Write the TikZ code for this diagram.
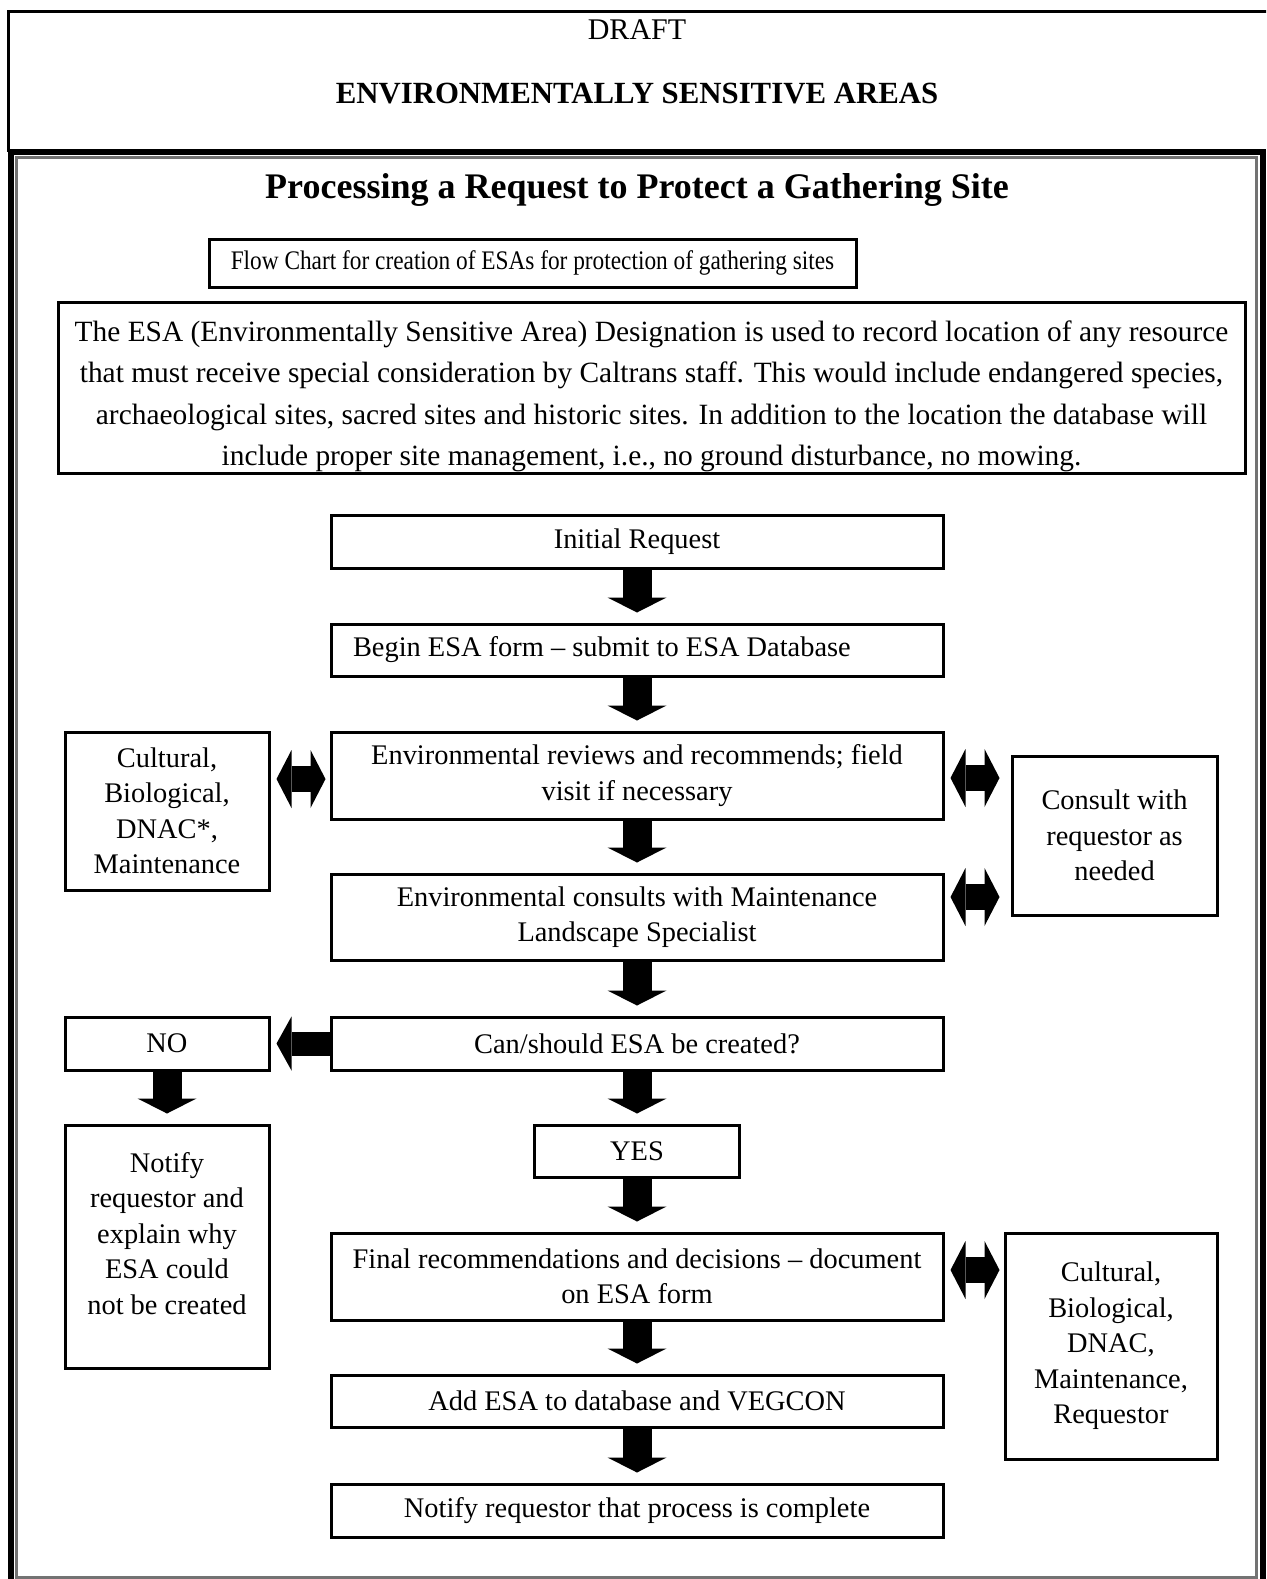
\documentclass[tikz,border=0pt]{standalone}
\usepackage{graphicx}
\usepackage{fontspec}
\setmainfont{Liberation Serif}
\usetikzlibrary{arrows.meta,calc}

\tikzset{
  box/.style={draw, line width=1.5pt, inner sep=0pt, align=center,
    font=\fontsize{14.2}{17.75}\selectfont},
  mainbox/.style={box, minimum width=306pt},
  sidebox/.style={box, minimum width=102pt},
  downarrow/.style={line width=14.5pt,
    -{Triangle[width=29.5pt,length=7.5pt,line width=0pt]}, shorten >=5pt},
  sidearrow/.style={line width=13pt,
    {Triangle[width=29pt,length=7.5pt,line width=0pt]}-{Triangle[width=29pt,length=7.5pt,line width=0pt]}},
}

\begin{document}
\begin{tikzpicture}[x=0.5pt,y=-0.5pt]
        \useasboundingbox (0,0) rectangle (1266,1579);
        \clip (0,0) rectangle (1266,1579);
        % header and frame
        \draw[line width=1.5pt] (1290,11) -- (8,11) -- (8,152);
        \draw[line width=3pt] (10.5,151.5) rectangle (1262.5,1600);
        \draw[line width=1.5pt, black!55] (16.5,157.5) rectangle (1256.5,1577.5);
        \node[font=\fontsize{15}{18}\selectfont] (draft) at (637,30) {DRAFT};
        \node[font=\bfseries\fontsize{15.4}{18}\selectfont] (areas) at (637,94) {ENVIRONMENTALLY SENSITIVE AREAS};
        \node[font=\bfseries\fontsize{18}{21}\selectfont] (title) at (637,190) {Processing a Request to Protect a Gathering Site};
        \node[box, minimum width=323.5pt, minimum height=24pt, font=\fontsize{13.4}{16}\selectfont] (flow) at (532.5,263)
          {\scalebox{0.87}[1]{Flow Chart for creation of ESAs for protection of gathering sites}};
        \node[box, minimum width=593.5pt, minimum height=85.5pt, font=\fontsize{14.7}{20.7}\selectfont] (intro) at (651.5,387.5)
          {\rule{0pt}{19pt}The ESA (Environmentally Sensitive Area) Designation is used to record location of any resource\\
           that must receive special consideration by Caltrans staff. This would include endangered species,\\
           archaeological sites, sacred sites and historic sites. In addition to the location the database will\\
           include proper site management, i.e., no ground disturbance, no mowing.};
        % main column
        \node[mainbox, minimum height=26.5pt] (init) at (637,541.5) {Initial Request};
        \node[mainbox, minimum height=26pt] (begin) at (637,650)
          {\makebox[284pt][l]{Begin ESA form -- submit to ESA Database}};
        \node[mainbox, minimum height=43.5pt] (revA) at (637,775.5)
          {Environmental reviews and recommends; field\\visit if necessary};
        \node[mainbox, minimum height=43pt] (revB) at (637,917)
          {Environmental consults with Maintenance\\Landscape Specialist};
        \node[mainbox, minimum height=26.5pt] (can) at (637,1043.5) {Can/should ESA be created?};
        \node[box, minimum width=102.5pt, minimum height=26pt] (yes) at (637,1151) {YES};
        \node[mainbox, minimum height=43.5pt] (final) at (637,1276.5)
          {Final recommendations and decisions -- document\\on ESA form};
        \node[mainbox, minimum height=26pt] (add) at (637,1401) {Add ESA to database and VEGCON};
        \node[mainbox, minimum height=26.5pt] (done) at (637,1510.5) {Notify requestor that process is complete};
        % side boxes
        \node[sidebox, minimum height=79pt] (cultA) at (167,811) {Cultural,\\Biological,\\DNAC*,\\Maintenance};
        \node[sidebox, minimum height=26.5pt] (no) at (167,1043.5) {NO};
        \node[sidebox] (notify) at (167,1246.5)
          {\parbox[c][121.5pt][t]{100pt}{\vspace*{13.5pt}\centering
           Notify\\requestor and\\explain why\\ESA could\\not be created}};
        \node[box, minimum width=102.5pt, minimum height=79.5pt] (consult) at (1114.5,835.5)
          {Consult with\\requestor as\\needed};
        \node[box, minimum width=106pt, minimum height=113pt] (cultB) at (1111,1346)
          {Cultural,\\Biological,\\DNAC,\\Maintenance,\\Requestor};
        % block arrows
        \draw[downarrow] (init.south) -- (begin.north);
        \draw[downarrow] (begin.south) -- (revA.north);
        \draw[downarrow] (revA.south) -- (revB.north);
        \draw[downarrow] (revB.south) -- (can.north);
        \draw[downarrow] (can.south) -- (yes.north);
        \draw[downarrow] (yes.south) -- (final.north);
        \draw[downarrow] (final.south) -- (add.north);
        \draw[downarrow] (add.south) -- (done.north);
        \draw[downarrow] (no.south) -- (notify.north);
        \draw[line width=12pt, -{Triangle[width=27pt,length=7.5pt,line width=0pt]}, shorten >=3pt] (can.west) -- (no.east);
        \draw[sidearrow, shorten <=3pt, shorten >=2pt] (cultA.east |- 0,779) -- (revA.west |- 0,779);
        \draw[sidearrow, shorten <=3pt, shorten >=5.5pt] (revA.east |- 0,778) -- (consult.west |- 0,778);
        \draw[sidearrow, shorten <=3pt, shorten >=5.5pt] (revB.east |- 0,897) -- (consult.west |- 0,897);
        \draw[sidearrow, shorten <=3pt, shorten >=2pt] (final.east |- 0,1270) -- (cultB.west |- 0,1270);
\end{tikzpicture}
\end{document}
